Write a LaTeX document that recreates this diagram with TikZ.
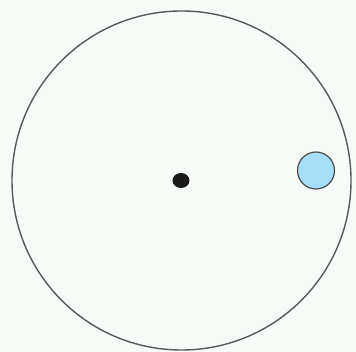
\documentclass[tikz,border=0pt]{standalone}
\definecolor{bgc}{RGB}{247,251,248}
\definecolor{lb}{RGB}{165,222,246}
\begin{document}
\begin{tikzpicture}[x=1pt,y=-1pt,
  outer/.style={draw=black!65,line width=1.4pt},
  centerdot/.style={fill=black!90,draw=none},
  planet/.style={fill=lb,draw=black!70,line width=1.2pt}]
\fill[bgc] (0,0) rectangle (356,352);
\useasboundingbox (0,0) rectangle (356,352);
\draw[outer] (181.5,180.5) circle (169.5);
\fill[centerdot] (181,180.5) ellipse (8.5 and 7.5);
\draw[planet] (316,170.5) circle (18.5);
\end{tikzpicture}
\end{document}
